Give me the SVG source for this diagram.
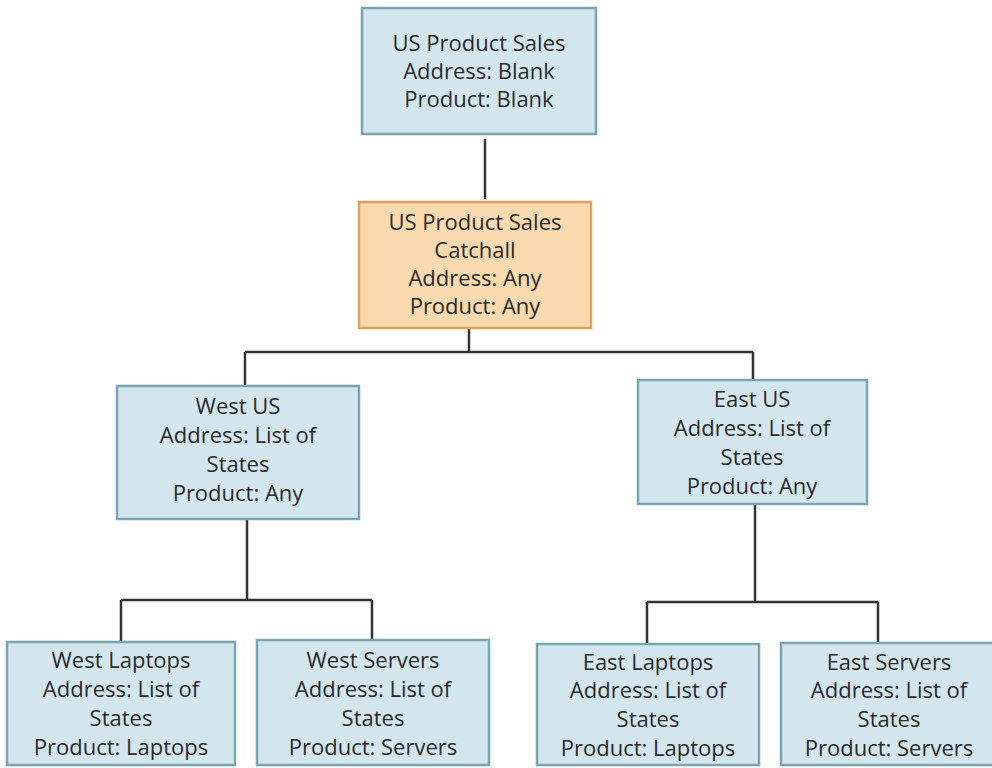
<svg xmlns="http://www.w3.org/2000/svg" width="992" height="768" viewBox="0 0 992 768">
<style>
.box{fill:#d3e6ed;stroke:#7aa5b1;stroke-width:2.5}
.orange{fill:#f9d9ae;stroke:#e2a15c;stroke-width:2.5}
.lbl{font-family:"Open Sans","Noto Sans",sans-serif;font-size:22px;fill:#2a2a2a;text-anchor:middle}
.conn{fill:none;stroke:#333;stroke-width:2.5}
</style>
<rect width="992" height="768" fill="#fff"/>
<g id="connectors">
<path class="conn" d="M485 139V199"/>
<path class="conn" d="M469 329V352M245 352H753M245 352V386M753 352V380"/>
<path class="conn" d="M247 519V600M121 600H372M121 600V642M372 600V640"/>
<path class="conn" d="M755 504V602M647 602H878M647 602V644M878 602V643"/>
</g>
<g id="us-product-sales">
<rect class="box" x="362" y="8" width="234" height="126"/>
<text class="lbl"><tspan x="479" y="51">US Product Sales</tspan><tspan x="479" y="79">Address: Blank</tspan><tspan x="479" y="107">Product: Blank</tspan></text>
</g>
<g id="catchall">
<rect class="orange" x="359" y="202" width="232" height="126"/>
<text class="lbl"><tspan x="475" y="230">US Product Sales</tspan><tspan x="475" y="258">Catchall</tspan><tspan x="475" y="286">Address: Any</tspan><tspan x="475" y="314">Product: Any</tspan></text>
</g>
<g id="west-us">
<rect class="box" x="117" y="386" width="242" height="133"/>
<text class="lbl"><tspan x="238" y="414">West US</tspan><tspan x="238" y="443">Address: List of</tspan><tspan x="238" y="472">States</tspan><tspan x="238" y="501">Product: Any</tspan></text>
</g>
<g id="east-us">
<rect class="box" x="638" y="380" width="229" height="124"/>
<text class="lbl"><tspan x="752" y="407">East US</tspan><tspan x="752" y="436">Address: List of</tspan><tspan x="752" y="465">States</tspan><tspan x="752" y="494">Product: Any</tspan></text>
</g>
<g id="west-laptops">
<rect class="box" x="7" y="642" width="228" height="123"/>
<text class="lbl"><tspan x="121" y="668">West Laptops</tspan><tspan x="121" y="697">Address: List of</tspan><tspan x="121" y="726">States</tspan><tspan x="121" y="755">Product: Laptops</tspan></text>
</g>
<g id="west-servers">
<rect class="box" x="257" y="640" width="232" height="125"/>
<text class="lbl"><tspan x="373" y="668">West Servers</tspan><tspan x="373" y="697">Address: List of</tspan><tspan x="373" y="726">States</tspan><tspan x="373" y="755">Product: Servers</tspan></text>
</g>
<g id="east-laptops">
<rect class="box" x="537" y="644" width="222" height="121"/>
<text class="lbl"><tspan x="648" y="670">East Laptops</tspan><tspan x="648" y="698">Address: List of</tspan><tspan x="648" y="727">States</tspan><tspan x="648" y="756">Product: Laptops</tspan></text>
</g>
<g id="east-servers">
<rect class="box" x="781" y="643" width="215" height="122"/>
<text class="lbl"><tspan x="889" y="670">East Servers</tspan><tspan x="889" y="698">Address: List of</tspan><tspan x="889" y="727">States</tspan><tspan x="889" y="756">Product: Servers</tspan></text>
</g>
</svg>
